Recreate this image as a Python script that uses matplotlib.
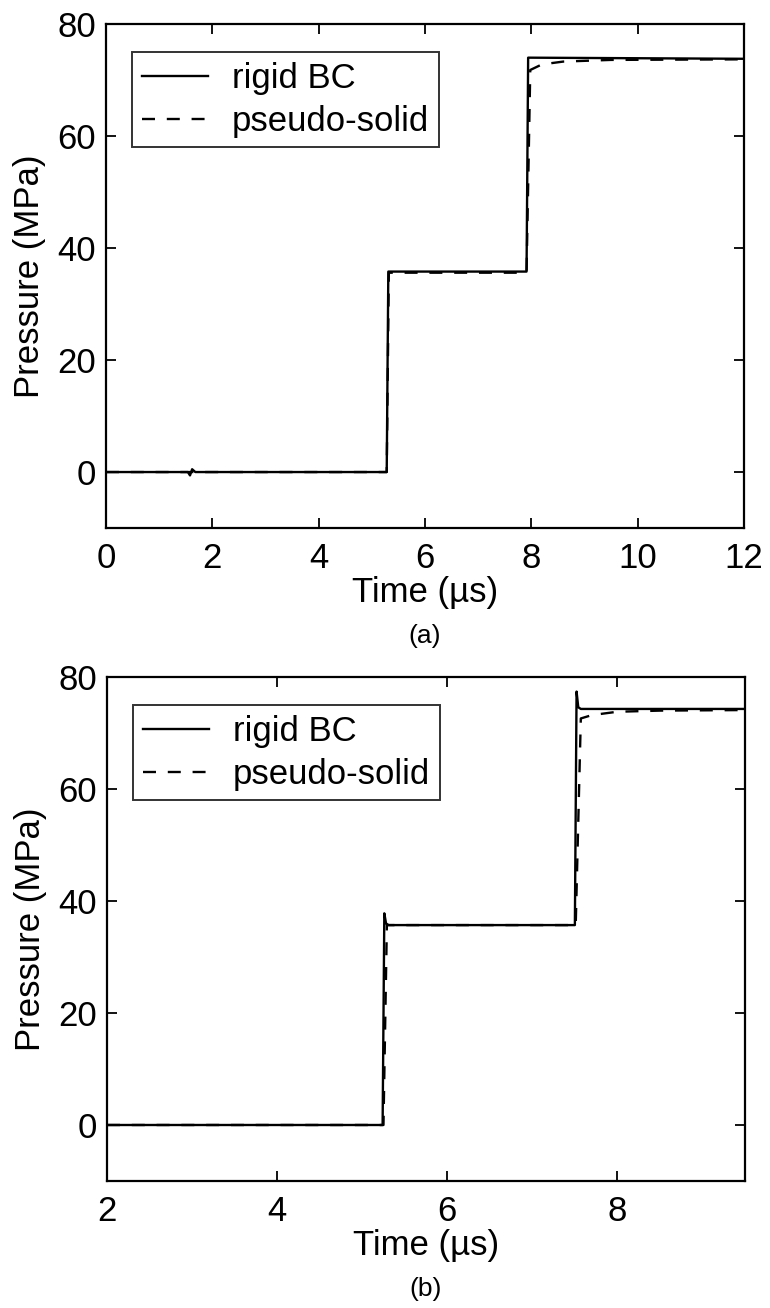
import matplotlib
matplotlib.use("Agg")
import matplotlib.pyplot as plt

plt.rcParams['font.family'] = ['Liberation Sans', 'DejaVu Sans']

# Panel (a) data
t_a_rigid = [0, 1.54, 1.58, 1.62, 1.68, 5.28, 5.31, 7.91, 7.94, 12]
p_a_rigid = [0, 0, -0.6, 0.5, 0, 0, 35.8, 35.8, 74.0, 73.8]
t_a_pseudo = [0, 5.28, 5.32, 7.91, 7.98, 8.20, 8.60, 9.50, 12]
p_a_pseudo = [0, 0, 35.6, 35.6, 71.8, 72.8, 73.3, 73.6, 73.7]

# Panel (b) data
t_b_rigid = [2, 5.24, 5.26, 5.28, 5.31, 7.50, 7.52, 7.54, 7.57, 9.5]
p_b_rigid = [0, 0, 37.8, 36.0, 35.7, 35.7, 77.4, 74.6, 74.3, 74.3]
t_b_pseudo = [2, 5.25, 5.29, 7.51, 7.57, 7.70, 8.00, 8.50, 9.5]
p_b_pseudo = [0, 0, 35.7, 35.7, 72.6, 73.2, 73.8, 74.0, 74.1]

xticks_a = [0, 2, 4, 6, 8, 10, 12]
xticks_b = [2, 4, 6, 8]
yticks = [0, 20, 40, 60, 80]

FS = 25

fig = plt.figure(figsize=(7.7, 13.08), dpi=100)
ax1 = fig.add_axes([106 / 770, 0.5963, 638 / 770, 0.3853])
ax2 = fig.add_axes([107 / 770, 0.0971, 638 / 770, 0.3853])


def style(ax, t_r, p_r, t_p, p_p, xlim, xticks, tag):
    ax.plot(t_r, p_r, color='black', lw=1.7, label='rigid BC')
    ax.plot(t_p, p_p, color='black', lw=1.7, ls=(0, (5.5, 5)), label='pseudo-solid')
    ax.set_xlim(*xlim)
    ax.set_ylim(-10, 80)
    ax.set_xticks(xticks)
    ax.set_yticks(yticks)
    ax.tick_params(direction='in', top=True, right=True, length=7, width=1.3,
                   labelsize=FS)
    ax.tick_params(axis='x', pad=10)
    ax.tick_params(axis='y', pad=7)
    for s in ax.spines.values():
        s.set_linewidth(1.6)
    ax.set_xlabel('Time (\u00b5s)', fontsize=FS, labelpad=1)
    ax.set_ylabel('Pressure (MPa)', fontsize=FS, labelpad=8)
    leg = ax.legend(loc='upper left', bbox_to_anchor=(0.041, 0.944), fontsize=FS,
                    frameon=True, fancybox=False, edgecolor='black',
                    handlelength=1.9, borderpad=0.28, labelspacing=0.28,
                    handletextpad=0.7, borderaxespad=0)
    leg.get_frame().set_linewidth(1.4)
    ax.text(0.5, -0.19, tag, transform=ax.transAxes, ha='center', va='top',
            fontsize=19)


style(ax1, t_a_rigid, p_a_rigid, t_a_pseudo, p_a_pseudo, (0, 12), xticks_a, '(a)')
style(ax2, t_b_rigid, p_b_rigid, t_b_pseudo, p_b_pseudo, (2, 9.5), xticks_b, '(b)')

fig.savefig('out.png', dpi=100)
